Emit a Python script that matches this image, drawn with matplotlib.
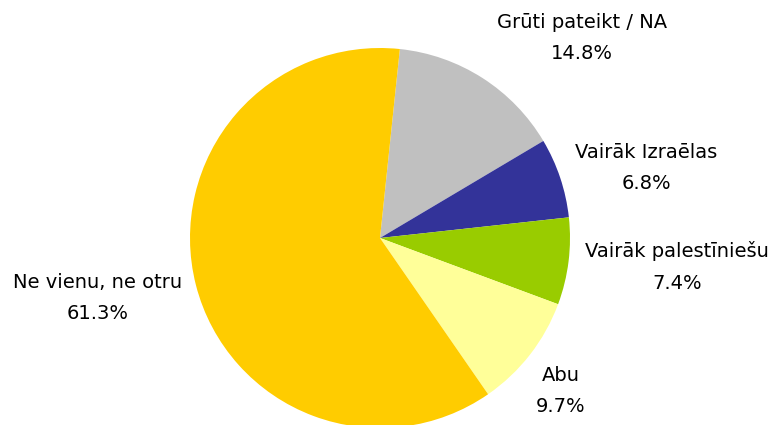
import matplotlib
matplotlib.use("Agg")
import matplotlib.pyplot as plt

# answers, clockwise from the top
labels = ['Grūti pateikt / NA', 'Vairāk Izraēlas', 'Vairāk palestīniešu', 'Abu', 'Ne vienu, ne otru']
shares = [14.8, 6.8, 7.4, 9.7, 61.3]
colors = ['#C0C0C0', '#333399', '#99CC00', '#FFFF99', '#FFCC00']

# label anchor points in pixel units (x, y from top)
label_pos = [(582, 38), (646, 168), (677, 267), (561, 391), (98, 298)]

W, H = 783, 425
fig = plt.figure(figsize=(W / 100, H / 100), dpi=100)
ax = fig.add_axes([0, 0, 1, 1])

ax.pie(shares, colors=colors, startangle=84, counterclock=False,
       radius=190, center=(380, H - 238),
       wedgeprops={'linewidth': 0})

for lab, val, (x, y) in zip(labels, shares, label_pos):
    ax.text(x, H - y, f'{lab}\n{val:.1f}%', ha='center', va='center',
            fontsize=14, family='DejaVu Sans', linespacing=1.85,
            color='black')

ax.set_xlim(0, W)
ax.set_ylim(0, H)
ax.set_aspect('equal')
ax.axis('off')

fig.savefig('out.png', dpi=100)
